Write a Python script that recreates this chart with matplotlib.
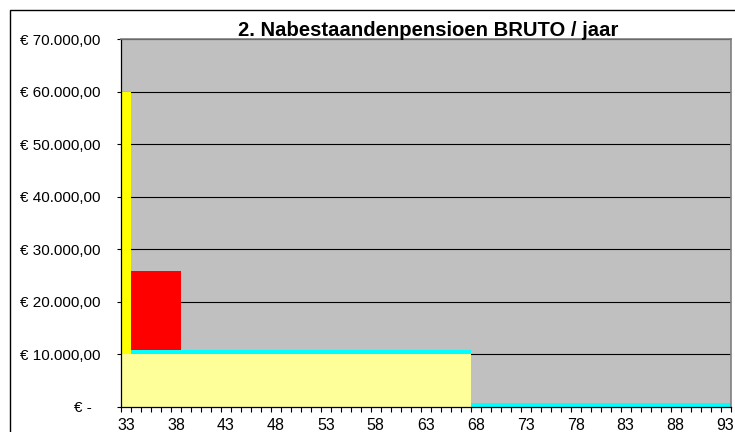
import numpy as np
import matplotlib
matplotlib.use("Agg")
import matplotlib.pyplot as plt
from matplotlib.patches import Rectangle
from matplotlib.ticker import FixedLocator

plt.rcParams['font.family'] = ['Liberation Sans', 'DejaVu Sans']

# DATA, ages 33..93
ages = list(range(33, 94))
n = len(ages)

# basis nabestaandenpensioen (licht geel), t/m 67 jaar
basis = [10000] * 35 + [0] * 26
# eenmalig (geel), alleen in het eerste jaar
eenmalig = [50000] + [0] * 60
# aanvulling (cyaan), vanaf 34 jaar
aanvulling = [0] + [700] * 60
# wezenpensioen (rood), 34 t/m 38 jaar
wezen = [0] + [15200] * 5 + [0] * 55

series = [
    (basis, '#FFFF99'),
    (eenmalig, '#FFFF00'),
    (aanvulling, '#00FFFF'),
    (wezen, '#FF0000'),
]

y_ticks = [0, 10000, 20000, 30000, 40000, 50000, 60000, 70000]


def euro(v):
    if v == 0:
        return '€ -  '
    s = '{:,.2f}'.format(v)
    s = s.replace(',', 'X').replace('.', ',').replace('X', '.')
    return '€ ' + s


fig = plt.figure(figsize=(7.35, 4.32), dpi=100)
ax = fig.add_axes([121 / 735, 1 - 406.5 / 432, 609.5 / 735, 367.2 / 432])
ax.set_facecolor('#C0C0C0')

bottom = np.zeros(n)
for vals, col in series:
    vals = np.array(vals, dtype=float)
    ax.bar(ages, vals, width=1.0, bottom=bottom, color=col, linewidth=0, zorder=2)
    bottom += vals

ax.set_xlim(32.5, 93.5)
ax.set_ylim(0, 70000)

ax.yaxis.set_major_locator(FixedLocator(y_ticks))
ax.set_yticklabels([euro(v) for v in y_ticks])
ax.grid(axis='y', color='black', linewidth=0.8, zorder=1)
ax.set_axisbelow(True)

ax.xaxis.set_major_locator(FixedLocator(ages[::5]))
ax.set_xticklabels([str(a) for a in ages[::5]])
ax.xaxis.set_minor_locator(FixedLocator(np.arange(32.5, 94, 1.0)))
ax.tick_params(axis='x', which='major', length=0, pad=8.5, labelsize=11.5)
ax.tick_params(axis='x', which='minor', length=3.5, width=0.8, direction='out')
ax.tick_params(axis='y', which='major', length=3, width=0.8, pad=12, labelsize=11)

for side in ['top', 'right']:
    ax.spines[side].set_color('#808080')
    ax.spines[side].set_linewidth(1.2)
for side in ['left', 'bottom']:
    ax.spines[side].set_color('black')
    ax.spines[side].set_linewidth(0.9)

fig.text(428 / 735, 1 - 36.5 / 432, '2. Nabestaandenpensioen BRUTO / jaar',
         ha='center', va='baseline', fontsize=14.6, fontweight='bold')

# rand om het diagramgebied
fig.patches.append(Rectangle((9.5 / 735, -0.2), 1.2, 1.2 - 9.5 / 432,
                             transform=fig.transFigure, fill=False,
                             edgecolor='black', linewidth=1.0))

fig.savefig('out.png', dpi=100)
